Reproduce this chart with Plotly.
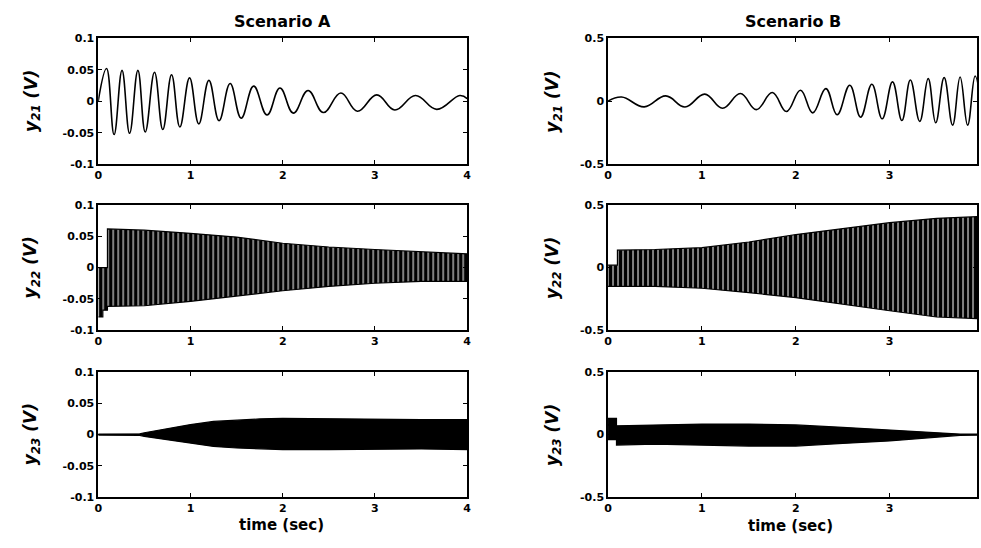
import plotly.graph_objects as go
from plotly.subplots import make_subplots

W, H = 981, 548

# ---------------- data ----------------
# y21, Scenario A: successive extrema of the oscillation (time s, volts)
y21A_t = [0.0, 0.09, 0.172, 0.258, 0.34, 0.43, 0.51, 0.61, 0.70, 0.795, 0.885, 0.99, 1.09,
          1.20, 1.31, 1.43, 1.55, 1.685, 1.83, 1.97, 2.115, 2.275, 2.44, 2.63, 2.81, 3.02,
          3.215, 3.44, 3.67, 3.92, 4.0]
y21A_v = [0.0, 0.052, -0.053, 0.049, -0.051, 0.049, -0.049, 0.046, -0.045, 0.042, -0.041,
          0.037, -0.036, 0.033, -0.031, 0.028, -0.027, 0.024, -0.022, 0.021, -0.019, 0.017,
          -0.018, 0.013, -0.016, 0.010, -0.014, 0.009, -0.013, 0.009, 0.004]

# y21, Scenario B: successive extrema
y21B_t = [0.0, 0.145, 0.385, 0.615, 0.82, 1.03, 1.22, 1.41, 1.58, 1.75, 1.90, 2.05, 2.18,
          2.32, 2.44, 2.575, 2.69, 2.81, 2.92, 3.03, 3.13, 3.22, 3.32, 3.41, 3.49, 3.58,
          3.67, 3.75, 3.83, 3.91, 3.99]
y21B_v = [0.0, 0.033, -0.045, 0.042, -0.046, 0.056, -0.056, 0.061, -0.067, 0.069, -0.082,
          0.087, -0.093, 0.100, -0.108, 0.127, -0.127, 0.134, -0.140, 0.153, -0.153, 0.168,
          -0.160, 0.179, -0.171, 0.187, -0.190, 0.192, -0.190, 0.200, -0.200]

# y22 / y23: dense oscillations, given as upper and lower envelopes
y22A_t = [0.0, 0.05, 0.05, 0.1, 0.1, 0.5, 1.0, 1.5, 2.0, 2.5, 3.0, 3.5, 4.0]
y22A_hi = [0.0, 0.0, 0.0, 0.0, 0.062, 0.060, 0.055, 0.049, 0.039, 0.033, 0.029, 0.025, 0.022]
y22A_lo = [-0.079, -0.079, -0.068, -0.068, -0.062, -0.061, -0.054, -0.046, -0.037, -0.030,
           -0.025, -0.022, -0.022]

y22B_t = [0.0, 0.1, 0.1, 0.5, 1.0, 1.5, 2.0, 2.5, 3.0, 3.5, 4.0]
y22B_hi = [0.02, 0.02, 0.14, 0.145, 0.16, 0.205, 0.265, 0.315, 0.36, 0.395, 0.41]
y22B_lo = [-0.15, -0.15, -0.15, -0.15, -0.165, -0.20, -0.24, -0.29, -0.345, -0.395, -0.41]

y23A_t = [0.0, 0.45, 0.5, 0.75, 1.0, 1.25, 1.5, 1.75, 2.0, 2.5, 3.0, 3.5, 4.0]
y23A_hi = [0.0008, 0.0012, 0.003, 0.0095, 0.016, 0.021, 0.0235, 0.025, 0.026, 0.025, 0.024,
           0.024, 0.024]
y23A_lo = [-0.0008, -0.0012, -0.003, -0.0085, -0.014, -0.019, -0.0215, -0.023, -0.024, -0.024,
           -0.024, -0.023, -0.024]

y23B_t = [0.0, 0.09, 0.09, 0.5, 1.0, 1.5, 2.0, 2.5, 3.0, 3.5, 3.75, 4.0]
y23B_hi = [0.13, 0.13, 0.07, 0.077, 0.084, 0.084, 0.077, 0.058, 0.038, 0.012, 0.004, 0.003]
y23B_lo = [-0.04, -0.04, -0.084, -0.077, -0.084, -0.092, -0.092, -0.071, -0.051, -0.019,
           -0.006, -0.004]

xticks = [0, 1, 2, 3, 4]
ytickA = [-0.1, -0.05, 0, 0.05, 0.1]
ytickA_txt = ["-0.1", "-0.05", "0", "0.05", "0.1"]
ytickB = [-0.5, 0, 0.5]
ytickB_txt = ["-0.5", "0", "0.5"]
titles = ["Scenario A", "Scenario B"]
ylabels = ["y<sub>21</sub> (V)", "y<sub>22</sub> (V)", "y<sub>23</sub> (V)"]
xlabel = "time (sec)"

# ---------------- figure ----------------
fig = make_subplots(rows=3, cols=2)

FONT = "DejaVu Sans"
left_x = [95 / W, 467 / W]
right_x = [609 / W, 1.0]
rows_px = [(33, 162), (204, 332), (375, 503)]


def band(t, hi, lo):
    return t + t[::-1], hi + lo[::-1]


# top row: lines
fig.add_trace(go.Scatter(x=y21A_t, y=y21A_v, mode="lines",
                         line=dict(color="black", width=1.6, shape="spline", smoothing=1.2)),
              row=1, col=1)
fig.add_trace(go.Scatter(x=y21B_t, y=y21B_v, mode="lines",
                         line=dict(color="black", width=1.6, shape="spline", smoothing=1.2)),
              row=1, col=2)

# middle row: hatched envelope bands
for (t, hi, lo), col in [((y22A_t, y22A_hi, y22A_lo), 1), ((y22B_t, y22B_hi, y22B_lo), 2)]:
    bx, by = band(t, hi, lo)
    fig.add_trace(go.Scatter(x=bx, y=by, mode="lines", fill="toself",
                             fillcolor="white",
                             fillpattern=dict(shape="|", size=5, solidity=0.8,
                                              fgcolor="black", bgcolor="white",
                                              fillmode="replace"),
                             line=dict(color="black", width=1.2)),
                  row=2, col=col)

# bottom row: near-solid envelope bands
for (t, hi, lo), col in [((y23A_t, y23A_hi, y23A_lo), 1), ((y23B_t, y23B_hi, y23B_lo), 2)]:
    bx, by = band(t, hi, lo)
    fig.add_trace(go.Scatter(x=bx, y=by, mode="lines", fill="toself",
                             fillcolor="black",
                             line=dict(color="black", width=1.2)),
                  row=3, col=col)

axis_common = dict(showline=True, linecolor="black", linewidth=1.5, mirror="allticks",
                   ticks="inside", ticklen=4, tickwidth=1, tickcolor="black",
                   showgrid=False, zeroline=False,
                   tickfont=dict(family=FONT, size=11, color="black", weight="bold"))

for r in range(3):
    y0, y1 = rows_px[r]
    dom_y = [1 - y1 / H, 1 - y0 / H]
    for c in range(2):
        fig.update_xaxes(row=r + 1, col=c + 1, domain=left_x if c == 0 else right_x,
                         range=[0, 4] if c == 0 else [0, 3.93],
                         tickvals=xticks, ticktext=[str(v) for v in xticks],
                         **axis_common)
        if c == 0:
            fig.update_yaxes(row=r + 1, col=c + 1, domain=dom_y, range=[-0.1, 0.1],
                             tickvals=ytickA, ticktext=ytickA_txt, **axis_common)
        else:
            fig.update_yaxes(row=r + 1, col=c + 1, domain=dom_y, range=[-0.5, 0.5],
                             tickvals=ytickB, ticktext=ytickB_txt, **axis_common)

ann = []
# column titles
for cx, txt in zip([281, 795], titles):
    ann.append(dict(x=cx / W, y=1 - 16 / H, xref="paper", yref="paper", text=f"<b>{txt}</b>",
                    showarrow=False, xanchor="center", yanchor="middle",
                    font=dict(family=FONT, size=16, color="black")))
# y labels
for r in range(3):
    y0, y1 = rows_px[r]
    yc = (y0 + y1) / 2
    for lx in [28, 554]:
        ann.append(dict(x=lx / W, y=1 - yc / H, xref="paper", yref="paper",
                        text=f"<b><i>{ylabels[r]}</i></b>", textangle=-90,
                        showarrow=False, xanchor="center", yanchor="middle",
                        font=dict(family=FONT, size=17, color="black")))
# x labels
for cx, cy in [(280, 532), (793, 533)]:
    ann.append(dict(x=cx / W, y=1 - cy / H, xref="paper", yref="paper",
                    text=f"<b>{xlabel}</b>", showarrow=False,
                    xanchor="center", yanchor="middle",
                    font=dict(family=FONT, size=15, color="black")))

fig.update_layout(width=W, height=H, margin=dict(l=0, r=0, t=0, b=0),
                  paper_bgcolor="white", plot_bgcolor="white", showlegend=False,
                  annotations=ann)

fig.write_html("out.html")
